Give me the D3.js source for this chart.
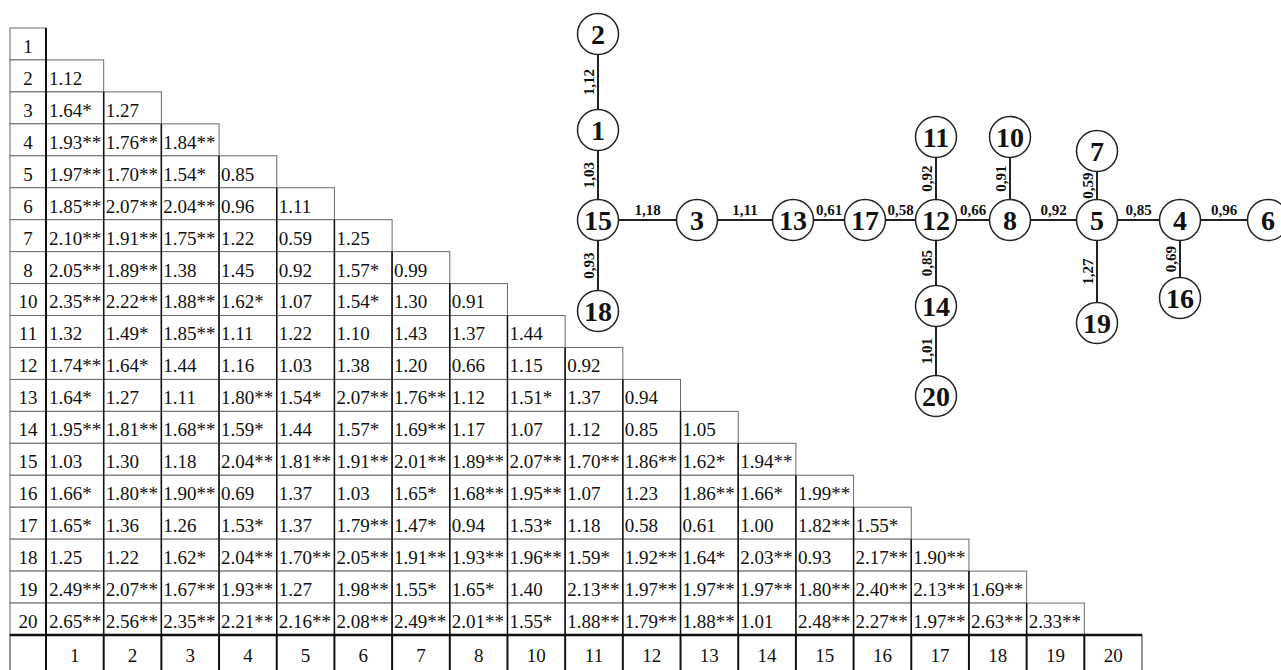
<!DOCTYPE html>
<html>
<head>
<meta charset="utf-8">
<script src="https://cdn.jsdelivr.net/npm/d3@7/dist/d3.min.js"></script>
<style>
  html, body { margin: 0; padding: 0; background: #fff; }
  svg { display: block; }
</style>
</head>
<body>
<script>
// ---------- DATA ----------
const rowLabels = ["1","2","3","4","5","6","7","8","10","11","12","13","14","15","16","17","18","19","20"];
const colLabels = ["1","2","3","4","5","6","7","8","10","11","12","13","14","15","16","17","18","19","20"];

// lower-triangular distance matrix (value + significance stars), one array per row
const distances = [
  [],
  ["1.12"],
  ["1.64*","1.27"],
  ["1.93**","1.76**","1.84**"],
  ["1.97**","1.70**","1.54*","0.85"],
  ["1.85**","2.07**","2.04**","0.96","1.11"],
  ["2.10**","1.91**","1.75**","1.22","0.59","1.25"],
  ["2.05**","1.89**","1.38","1.45","0.92","1.57*","0.99"],
  ["2.35**","2.22**","1.88**","1.62*","1.07","1.54*","1.30","0.91"],
  ["1.32","1.49*","1.85**","1.11","1.22","1.10","1.43","1.37","1.44"],
  ["1.74**","1.64*","1.44","1.16","1.03","1.38","1.20","0.66","1.15","0.92"],
  ["1.64*","1.27","1.11","1.80**","1.54*","2.07**","1.76**","1.12","1.51*","1.37","0.94"],
  ["1.95**","1.81**","1.68**","1.59*","1.44","1.57*","1.69**","1.17","1.07","1.12","0.85","1.05"],
  ["1.03","1.30","1.18","2.04**","1.81**","1.91**","2.01**","1.89**","2.07**","1.70**","1.86**","1.62*","1.94**"],
  ["1.66*","1.80**","1.90**","0.69","1.37","1.03","1.65*","1.68**","1.95**","1.07","1.23","1.86**","1.66*","1.99**"],
  ["1.65*","1.36","1.26","1.53*","1.37","1.79**","1.47*","0.94","1.53*","1.18","0.58","0.61","1.00","1.82**","1.55*"],
  ["1.25","1.22","1.62*","2.04**","1.70**","2.05**","1.91**","1.93**","1.96**","1.59*","1.92**","1.64*","2.03**","0.93","2.17**","1.90**"],
  ["2.49**","2.07**","1.67**","1.93**","1.27","1.98**","1.55*","1.65*","1.40","2.13**","1.97**","1.97**","1.97**","1.80**","2.40**","2.13**","1.69**"],
  ["2.65**","2.56**","2.35**","2.21**","2.16**","2.08**","2.49**","2.01**","1.55*","1.88**","1.79**","1.88**","1.01","2.48**","2.27**","1.97**","2.63**","2.33**"]
];

// minimum spanning tree edges (weights looked up in the matrix)
const treeEdges = [
  ["2","1"],["1","15"],["15","18"],["15","3"],["3","13"],["13","17"],["17","12"],
  ["12","11"],["12","14"],["14","20"],["12","8"],["8","10"],["8","5"],["5","7"],
  ["5","19"],["5","4"],["4","16"],["4","6"]
];

// ---------- LAYOUT (not data) ----------
const W = 1281, H = 670;
// tree node layout in abstract layout units
const nodeLayout = [
  {id:"2",  u:0,   v:-186},
  {id:"1",  u:0,   v:-90},
  {id:"15", u:0,   v:0},
  {id:"18", u:0,   v:91},
  {id:"3",  u:99,  v:0},
  {id:"13", u:195, v:0},
  {id:"17", u:267, v:0},
  {id:"12", u:338, v:0},
  {id:"11", u:338, v:-83},
  {id:"14", u:338, v:86},
  {id:"20", u:338, v:176},
  {id:"8",  u:412, v:0},
  {id:"10", u:412, v:-83},
  {id:"5",  u:499, v:0},
  {id:"7",  u:499, v:-69},
  {id:"19", u:499, v:103},
  {id:"4",  u:582, v:0},
  {id:"16", u:582, v:78},
  {id:"6",  u:670, v:0}
];

const svg = d3.select("body").append("svg").attr("width", W).attr("height", H);

// ---------- TABLE ----------
const serif = "'Liberation Serif', 'Times New Roman', serif";
const fs = 19;
const labelX0 = 10, labelX1 = 46;
const x = d3.scaleBand().domain(colLabels).range([46, 1142]);
const y = d3.scaleBand().domain(rowLabels).range([28, 635]);
const bw = x.bandwidth(), bh = y.bandwidth();
const footTop = 635, footBottom = 690;

const table = svg.append("g");

const cells = [];
distances.forEach((row, ri) => {
  row.forEach((val, ci) => cells.push({r: rowLabels[ri], c: colLabels[ci], val}));
});

table.selectAll("rect.lab").data(rowLabels).join("rect")
  .attr("x", labelX0).attr("y", d => y(d)).attr("width", labelX1 - labelX0).attr("height", bh)
  .attr("fill", "#fff").attr("stroke", "#6a6a6a").attr("stroke-width", 1);

table.selectAll("rect.cell").data(cells).join("rect")
  .attr("x", d => x(d.c)).attr("y", d => y(d.r)).attr("width", bw).attr("height", bh)
  .attr("fill", "#fff").attr("stroke", "#6a6a6a").attr("stroke-width", 1);

table.selectAll("line.vsep").data(cells.filter(d => d.c !== colLabels[0])).join("line")
  .attr("x1", d => x(d.c)).attr("x2", d => x(d.c))
  .attr("y1", d => y(d.r)).attr("y2", d => y(d.r) + bh)
  .attr("stroke", "#111").attr("stroke-width", 1.5);

table.append("line")
  .attr("x1", labelX1).attr("x2", labelX1).attr("y1", y(rowLabels[0])).attr("y2", footBottom)
  .attr("stroke", "#111").attr("stroke-width", 2);

table.selectAll("text.val").data(cells).join("text")
  .attr("x", d => x(d.c) + (d.c === colLabels[0] ? 3 : 2)).attr("y", d => y(d.r) + bh * 0.78)
  .attr("font-family", serif).attr("font-size", fs).attr("fill", "#111")
  .text(d => d.val);

table.selectAll("text.rl").data(rowLabels).join("text")
  .attr("x", (labelX0 + labelX1) / 2).attr("y", d => y(d) + bh * 0.78)
  .attr("text-anchor", "middle")
  .attr("font-family", serif).attr("font-size", fs).attr("fill", "#111")
  .text(d => d);

// footer (column labels)
table.append("rect")
  .attr("x", labelX0).attr("y", footTop).attr("width", 1142 - labelX0).attr("height", footBottom - footTop)
  .attr("fill", "none").attr("stroke", "#555").attr("stroke-width", 1.2);
table.selectAll("line.fsep").data(colLabels.slice(1)).join("line")
  .attr("x1", d => x(d)).attr("x2", d => x(d)).attr("y1", footTop).attr("y2", footBottom)
  .attr("stroke", "#111").attr("stroke-width", 2);
table.append("line")
  .attr("x1", labelX0).attr("x2", 1142).attr("y1", footTop).attr("y2", footTop)
  .attr("stroke", "#111").attr("stroke-width", 2.5);
table.selectAll("text.cl").data(colLabels).join("text")
  .attr("x", d => x(d) + bw / 2).attr("y", footTop + 27)
  .attr("text-anchor", "middle")
  .attr("font-family", serif).attr("font-size", fs).attr("fill", "#111")
  .text(d => d);

// ---------- TREE ----------
const nx = d3.scaleLinear().domain([0, 670]).range([598, 1268]);
const ny = d3.scaleLinear().domain([0, 176]).range([220, 396]);
const R = 20.5;
const pos = new Map(nodeLayout.map(n => [n.id, {x: nx(n.u), y: ny(n.v)}]));

function weight(a, b) {
  const ia = rowLabels.indexOf(a), ib = rowLabels.indexOf(b);
  const r = Math.max(ia, ib), c = Math.min(ia, ib);
  return parseFloat(distances[r][c]);
}
const fmt = v => d3.format(".2f")(v).replace(".", ",");

const edges = treeEdges.map(([a, b]) => ({a: pos.get(a), b: pos.get(b), w: weight(a, b)}));
const tree = svg.append("g");

tree.selectAll("line.edge").data(edges).join("line")
  .attr("x1", d => d.a.x).attr("y1", d => d.a.y)
  .attr("x2", d => d.b.x).attr("y2", d => d.b.y)
  .attr("stroke", "#222").attr("stroke-width", 2);

tree.selectAll("text.w").data(edges).join("text")
  .attr("transform", d => {
    const mx = (d.a.x + d.b.x) / 2, my = (d.a.y + d.b.y) / 2;
    const vertical = Math.abs(d.a.x - d.b.x) < 1;
    return vertical ? `translate(${mx - 4},${my}) rotate(-90)` : `translate(${mx},${my - 5})`;
  })
  .attr("text-anchor", "middle")
  .attr("font-family", serif).attr("font-weight", "bold").attr("font-size", 15).attr("fill", "#111")
  .text(d => fmt(d.w));

const nodeG = tree.selectAll("g.node").data(nodeLayout).join("g")
  .attr("transform", d => `translate(${pos.get(d.id).x},${pos.get(d.id).y})`);
nodeG.append("circle").attr("r", R).attr("fill", "#fff").attr("stroke", "#222").attr("stroke-width", 1.5);
nodeG.append("text")
  .attr("text-anchor", "middle").attr("y", 10)
  .attr("font-family", serif).attr("font-weight", "bold").attr("font-size", 28).attr("fill", "#111")
  .text(d => d.id);
</script>
</body>
</html>
